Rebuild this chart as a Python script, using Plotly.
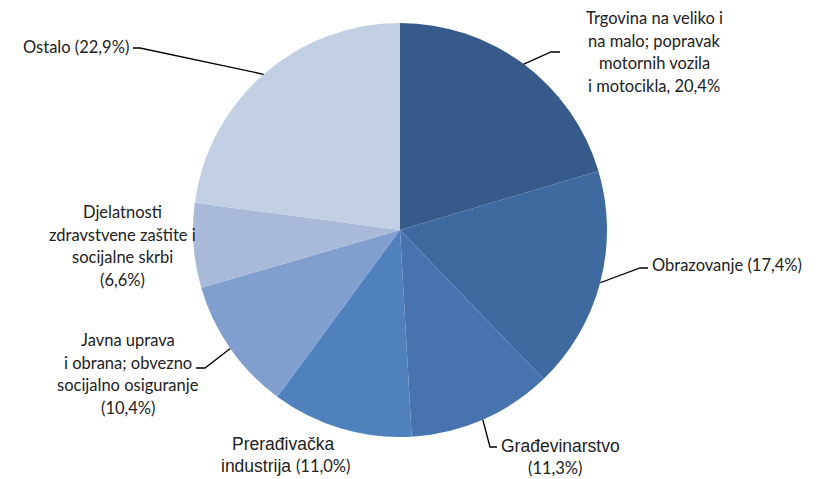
import math
import plotly.graph_objects as go

labels = ["Trgovina na veliko i na malo; popravak motornih vozila i motocikla",
          "Obrazovanje", "Građevinarstvo", "Prerađivačka industrija",
          "Javna uprava i obrana; obvezno socijalno osiguranje",
          "Djelatnosti zdravstvene zaštite i socijalne skrbi", "Ostalo"]
values = [20.4, 17.4, 11.3, 11.0, 10.4, 6.6, 22.9]
colors = ["#365b8a", "#3f6aa0", "#4774ae", "#4f81bd", "#809fcf", "#a9b9d9", "#c3cfe3"]

OFF = 8  # page body margin
W, H = 823 - OFF, 479 - OFF
CX, CY, R = 400, 230, 207

def px(x, y):
    return (x - OFF) / W, 1 - (y - OFF) / H

dx0, dy1 = px(CX - R, CY - R)
dx1, dy0 = px(CX + R, CY + R)

fig = go.Figure(go.Pie(
    labels=labels, values=values, sort=False, direction="clockwise", rotation=0,
    marker=dict(colors=colors, line=dict(width=0)),
    textinfo="none", hoverinfo="label+percent", showlegend=False,
    domain=dict(x=[dx0, dx1], y=[dy0, dy1]),
))

calibri = "Lato, 'Open Sans', sans-serif"
arial = "'Liberation Sans', Arial, sans-serif"
FS = 16.5
FA = 17.5

anns = []
def add(text, x, y, anchor="center", font=calibri, size=FS):
    X, Y = px(x, y)
    anns.append(dict(text=text, x=X, y=Y, xref="paper", yref="paper", showarrow=False,
                     xanchor=anchor, yanchor="middle",
                     font=dict(family=font, size=size, color="#222222")))

pct = lambda v: f"{v:.1f}".replace(".", ",") + "%"

# Trgovina
for i, t in enumerate(["Trgovina na veliko i", "na malo; popravak", "motornih vozila",
                       f"i motocikla, {pct(values[0])}"]):
    add(t, 654, 18 + i * 22.6)
# Obrazovanje
add(f"Obrazovanje ({pct(values[1])})", 650, 265, "left")
# Građevinarstvo
add("Građevinarstvo", 499, 446, "left", arial, FA)
add(f"({pct(values[2])})", 555, 468)
# Prerađivačka
add("Prerađivačka", 283, 444, "center", arial, FA)
add(f"industrija <span style='font-family:Lato;font-size:{FS}px'>({pct(values[3])})</span>",
    285, 466, "center", arial, FA)
# Javna uprava
for i, t in enumerate(["Javna uprava", "i obrana; obvezno", "socijalno osiguranje",
                       f"({pct(values[4])})"]):
    add(t, 128, 340 + i * 22.6)
# Djelatnosti
for i, t in enumerate(["Djelatnosti", "zdravstvene zaštite i", "socijalne skrbi",
                       f"({pct(values[5])})"]):
    add(t, 122, 212 + i * 22.6)
# Ostalo
add(f"Ostalo ({pct(values[6])})", 131, 47, "right")

# leader lines: from slice mid-angle on the rim to the label
total = sum(values)
cum = [sum(values[:i]) for i in range(len(values))]
def rim(i):
    a = 2 * math.pi * (cum[i] + values[i] / 2) / total
    return CX + R * math.sin(a), CY - R * math.cos(a)

leaders = {0: [(551, 52), (560, 52)], 1: [(640, 268), (648, 268)],
           2: [(490, 447), (497, 447)], 4: [(205, 368), (196, 368)],
           6: [(140, 48), (133, 48)]}
shapes = []
for i, pts in leaders.items():
    x0, y0 = rim(i)
    path = "M {} {}".format(*px(x0, y0))
    for (x, y) in pts:
        path += " L {} {}".format(*px(x, y))
    shapes.append(dict(type="path", path=path, xref="paper", yref="paper",
                       line=dict(color="#000000", width=1.3)))

fig.update_layout(width=W, height=H, margin=dict(l=0, r=0, t=0, b=0),
                  paper_bgcolor="white", plot_bgcolor="white",
                  annotations=anns, shapes=shapes)
fig.write_html("out.html")
